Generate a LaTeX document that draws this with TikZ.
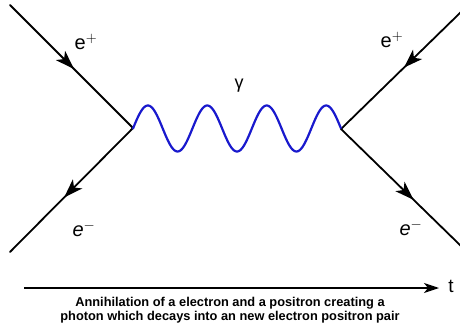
\documentclass[tikz,border=0pt]{standalone}
\usepackage{fontspec}
\setmainfont{Liberation Sans}
\usetikzlibrary{arrows.meta,decorations.markings}
\definecolor{photon}{RGB}{25,25,205}
\tikzset{
  fermion/.style={line width=1.8pt, line cap=round, postaction={decorate},
    decoration={markings, mark=at position #1 with {\arrow{Stealth[length=19pt,width=13pt,inset=5pt]}}}},
  lbl/.style={font=\fontsize{20}{20}\selectfont, inner sep=0pt},
}
\begin{document}
\begin{tikzpicture}[x=1pt,y=-1pt]
\useasboundingbox[fill=white] (0,0) rectangle (460,326);
\coordinate (V1) at (133,128);
\coordinate (V2) at (341,129);
\coordinate (A) at (10,5);
\coordinate (B) at (10,252);
\coordinate (C) at (462,11);
\coordinate (D) at (462,247);
\draw[fermion=0.52] (A) -- (V1);
\draw[fermion=0.56] (V1) -- (B);
\draw[fermion=0.48] (C) -- (V2);
\draw[fermion=0.6] (V2) -- (D);
\draw[photon, line width=2.2pt, line cap=round]
  plot[domain=0:1, samples=200, smooth] ({133+208*\x},{128.5-23*sin(\x*1260)});
\node[lbl] (ep1) at (86,42) {e$^{+}$};
\node[lbl] (em1) at (84,229) {\textit{e}$^{-}$};
\node[lbl] (ep2) at (392,40) {e$^{+}$};
\node[lbl] (em2) at (411,228) {\textit{e}$^{-}$};
\node[font=\fontsize{18}{18}\selectfont, inner sep=0pt] (g) at (239,86) {γ};
\coordinate (T0) at (24,288);
\coordinate (T1) at (439,288);
\node[font=\fontsize{19}{19}\selectfont, inner sep=0pt] (t) at (451,286) {t};
\draw[line width=1.3pt, -{Stealth[length=15pt,width=10pt,inset=4pt]}] (T0) -- (T1);
\node[font=\bfseries\fontsize{12.8}{14}\selectfont, align=center, inner sep=0pt] (cap) at (230,310)
  {Annihilation of a electron and a positron creating a\\photon which decays into an new electron positron pair};
\end{tikzpicture}
\end{document}
